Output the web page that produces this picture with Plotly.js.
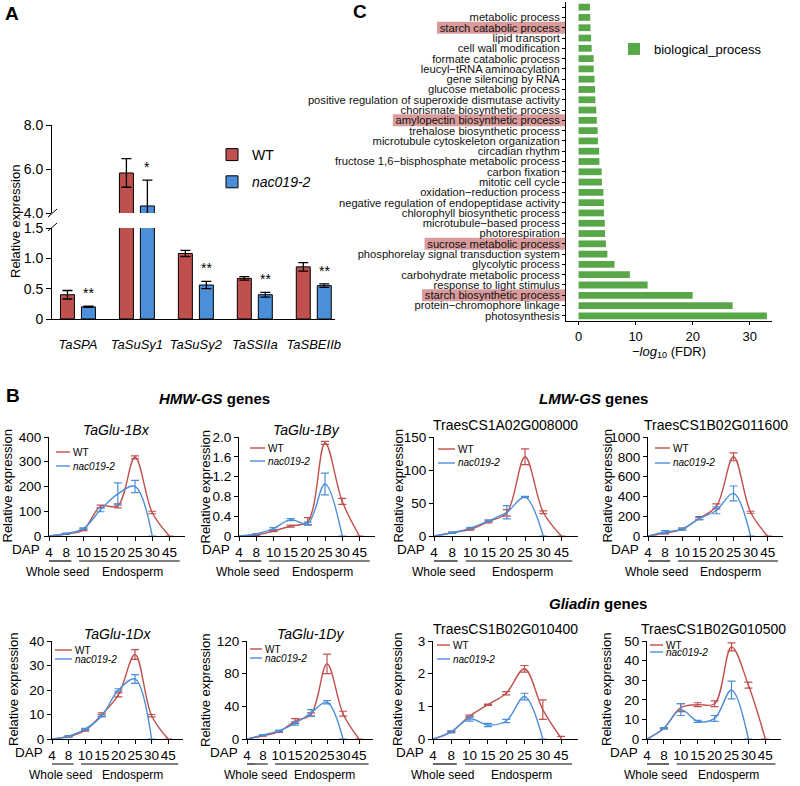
<!DOCTYPE html>
<html><head><meta charset="utf-8">
<script src="https://cdn.plot.ly/plotly-3.0.1.min.js"></script>
<style>body{margin:0;background:#fff}#chart{width:800px;height:786px}</style>
</head><body><div id="chart"></div>
<script>
// ---------------- DATA ----------------
// Panel A
const genesA = ['TaSPA','TaSuSy1','TaSuSy2','TaSSIIa','TaSBEIIb'];
const wtA = [0.40, 5.82, 1.08, 0.67, 0.86];
const wtAErr = [0.07, 0.65, 0.05, 0.03, 0.07];
const nacA = [0.20, 4.32, 0.56, 0.40, 0.55];
const nacAErr = [0.01, 1.17, 0.06, 0.04, 0.03];
const sigA = ['**','*','**','**','**'];
const aLowTicks = [0, 0.5, 1, 1.5];
const aLowTickText = ['0','0.5','1.0','1.5'];
const aHighTicks = [4, 6, 8];
const aHighTickText = ['4.0','6.0','8.0'];

// Panel C
const goTerms = [' ','metabolic process','starch catabolic process','lipid transport','cell wall modification',
 'formate catabolic process','leucyl\u2212tRNA aminoacylation','gene silencing by RNA','glucose metabolic process',
 'positive regulation of superoxide dismutase activity','chorismate biosynthetic process','amylopectin biosynthetic process',
 'trehalose biosynthetic process','microtubule cytoskeleton organization','circadian rhythm',
 'fructose 1,6\u2212bisphosphate metabolic process','carbon fixation','mitotic cell cycle','oxidation\u2212reduction process',
 'negative regulation of endopeptidase activity','chlorophyll biosynthetic process','microtubule\u2212based process',
 'photorespiration','sucrose metabolic process','phosphorelay signal transduction system','glycolytic process',
 'carbohydrate metabolic process','response to light stimulus','starch biosynthetic process','protein\u2212chromophore linkage',
 'photosynthesis'];
const goScore = [2.0,2.05,2.1,2.2,2.3,2.65,2.65,2.8,2.9,2.95,3.1,3.2,3.35,3.4,3.6,3.65,4.05,4.1,4.35,4.45,4.45,4.6,4.65,4.8,5.05,6.3,9.0,12.1,20.0,27.0,33.0];
const goHighlighted = ['starch catabolic process','amylopectin biosynthetic process','sucrose metabolic process','starch biosynthetic process'];
const cTicks = [0, 10, 20, 30];

// Panel B
const dap = ['4','8','10','15','20','25','30','45'];
const wt1Bx = [0, 8, 25, 120, 122, 318, 95, 0];
const wt1BxErr = [null, 2, 3, 5, 8, 6, 5, null];
const nac1Bx = [0, 10, 30, 106, 170, 200, 0, null];
const nac1BxErr = [null, 2, 3, 8, 45, 25, null, null];
const wt1By = [0, 0.02, 0.1, 0.2, 0.3, 1.88, 0.7, 0];
const wt1ByErr = [null, 0.01, 0.01, 0.02, 0.07, 0.03, 0.06, null];
const nac1By = [0, 0.04, 0.15, 0.33, 0.25, 1.05, 0, null];
const nac1ByErr = [null, 0.01, 0.02, 0.02, 0.03, 0.22, null, null];
const wt1A008 = [0, 5, 10, 22, 35, 120, 36, 0];
const wt1A008Err = [null, 1, 1, 2, 5, 12, 2, null];
const nac1A008 = [0, 5, 12, 23, 36, 59, 0, null];
const nac1A008Err = [null, 1, 1, 1, 10, 1, null, null];
const wt1B116 = [0, 30, 70, 180, 300, 800, 240, 0];
const wt1B116Err = [null, 8, 10, 15, 25, 40, 10, null];
const nac1B116 = [0, 40, 70, 175, 260, 430, 0, null];
const nac1B116Err = [null, 15, 10, 10, 35, 75, null, null];
const wt1Dx = [0, 1, 3.5, 10, 18, 34.5, 9.5, 0];
const wt1DxErr = [null, 0.2, 0.3, 0.7, 0.8, 2, 0.5, null];
const nac1Dx = [0, 1.2, 4, 9.5, 20, 24.5, 0, null];
const nac1DxErr = [null, 0.2, 0.3, 0.5, 0.5, 1.8, null, null];
const wt1Dy = [0, 4, 9, 22, 30, 92, 31, 0];
const wt1DyErr = [null, 0.5, 1, 3, 2, 12, 3, null];
const nac1Dy = [0, 5, 10, 19, 32, 45, 0, null];
const nac1DyErr = [null, 0.5, 1, 2, 4, 2, null, null];
const wt104 = [0, 0.22, 0.7, 1.05, 1.4, 2.15, 0.9, 0.03];
const wt104Err = [null, 0.02, 0.03, 0.02, 0.05, 0.1, 0.3, 0.05];
const nac104 = [0, 0.22, 0.62, 0.43, 0.55, 1.3, 0, null];
const nac104Err = [null, 0.03, 0.07, 0.05, 0.05, 0.1, null, null];
const wt105 = [0, 5.5, 16, 17.5, 18, 47, 27.5, 0];
const wt105Err = [null, 0.3, 2, 1, 1.5, 2, 1.5, null];
const nac105 = [0, 5.5, 15, 9, 10.5, 25, 0, null];
const nac105Err = [null, 0.3, 3, 0.5, 1.5, 4.5, null, null];

// ---------------- STYLE / LAYOUT ----------------
const W = 800, H = 786;
const X = v => v / W;
const Y = v => 1 - v / H;
const FONT = 'Liberation Sans, Arial, Helvetica, sans-serif';
const RED = '#c0504d', BLUE = '#4a8fd8', GREEN = '#58a84a', HILITE = '#d99b9b';

const traces = [], ann = [], shp = [];
const layout = {
  width: W, height: H, margin: {l:0, r:0, t:0, b:0},
  paper_bgcolor: '#fff', plot_bgcolor: 'rgba(0,0,0,0)',
  font: {family: FONT, size: 13, color: '#000'},
  barmode: 'overlay', showlegend: true, hovermode: false,
  legend: {x: X(212), y: Y(139), xanchor: 'left', yanchor: 'top', bgcolor: 'rgba(0,0,0,0)',
           font: {size: 14}, tracegroupgap: 6},
  legend2: {x: X(614), y: Y(34), xanchor: 'left', yanchor: 'top', bgcolor: 'rgba(0,0,0,0)',
           font: {size: 13}}
};
const axLine = {showline: true, linecolor: '#000', linewidth: 1, showgrid: false, zeroline: false,
                ticks: 'outside', tickcolor: '#000', tickwidth: 1, fixedrange: true, automargin: false};
function note(o) { return Object.assign({xref: 'paper', yref: 'paper', showarrow: false,
  xanchor: 'center', yanchor: 'middle'}, o); }

// ---- Panel A ----
const slot = 59;               // px per category
const barW = 14 / slot, half = 10.5 / slot;
[[wtA, wtAErr, 'WT', 'WT', RED, -half], [nacA, nacAErr, '<i>nac019-2</i>', 'nac', BLUE, half]]
.forEach(([vals, errs, name, grp, col, off]) => {
  ['y', 'y2'].forEach((ya, m) => {
    traces.push({type: 'bar', x: genesA, y: vals, name: name, legendgroup: grp, legend: 'legend',
      showlegend: m === 0, xaxis: 'x', yaxis: ya, width: barW, offset: off - barW / 2,
      marker: {color: col, line: {color: '#000', width: 1}},
      error_y: {type: 'data', array: errs, color: '#000', thickness: 1.3, width: 5}});
  });
});
layout.xaxis = Object.assign({}, axLine, {domain: [X(52), X(335)], anchor: 'y', type: 'category',
  range: [-0.44, 4.36], ticklen: 13, tickcolor: 'rgba(0,0,0,0)', tickmode: 'array', tickvals: genesA, tickangle: 0,
  ticktext: genesA.map(g => '<i>' + g + '</i>'), tickfont: {size: 13}});
layout.yaxis = Object.assign({}, axLine, {domain: [Y(319), Y(228)], anchor: 'x', range: [0, 1.5],
  tickmode: 'array', tickvals: aLowTicks, ticktext: aLowTickText, ticklen: 5, tickfont: {size: 14}});
layout.yaxis2 = Object.assign({}, axLine, {domain: [Y(213), Y(125)], anchor: 'x', range: [4, 8],
  tickmode: 'array', tickvals: aHighTicks, ticktext: aHighTickText, ticklen: 5, tickfont: {size: 14}});
genesA.forEach((g, i) => {
  const top = nacA[i] + nacAErr[i];
  ann.push({xref: 'x', yref: top > 1.5 ? 'y2' : 'y', x: i + half, y: top, text: sigA[i],
    showarrow: false, xanchor: 'center', yanchor: 'bottom', yshift: 3, font: {size: 14}});
});
ann.push(note({x: X(15), y: Y(222), text: 'Relative expression', textangle: -90, font: {size: 13}}));
// axis-break marks
[[48, 217, 57, 209], [48, 231, 57, 223]].forEach(([a, b, c, d]) => shp.push({type: 'line',
  xref: 'paper', yref: 'paper', x0: X(a), y0: Y(b), x1: X(c), y1: Y(d), line: {color: '#000', width: 1}}));

// ---- Panel C ----
traces.push({type: 'bar', orientation: 'h', x: goScore, y: goTerms, xaxis: 'x3', yaxis: 'y3',
  name: 'biological_process', legend: 'legend2', width: 0.66, marker: {color: GREEN}});
const cTop = 2, cBot = 321, cL = 566, cR = 772, cFont = 11.2;
layout.xaxis3 = Object.assign({}, axLine, {domain: [X(cL), X(cR)], anchor: 'y3', range: [-2.2, 33.9],
  tickmode: 'array', tickvals: cTicks, ticklen: 3, tickfont: {size: 13}, tickangle: 0,
  title: {text: '<i>\u2212log</i><sub>10</sub> (FDR)', font: {size: 13}, standoff: 0}});
layout.yaxis3 = Object.assign({}, axLine, {domain: [Y(cBot), Y(cTop)], anchor: 'x3', type: 'category',
  range: [goTerms.length - 0.5, -0.5], ticklen: 3, tickmode: 'array', tickvals: goTerms, ticktext: goTerms,
  tickfont: {size: cFont, color: '#111'}});
const ctx = document.createElement('canvas').getContext('2d');
ctx.font = cFont + 'px "Liberation Sans"';
const catH = (cBot - cTop) / goTerms.length;
goHighlighted.forEach(t => {
  const i = goTerms.indexOf(t);
  const yc = cTop + (i + 0.5) * catH;
  const w = ctx.measureText(t).width;
  shp.push({type: 'rect', xref: 'paper', yref: 'paper', layer: 'below',
    x0: X(cL - 3 - 3 - w - 3), x1: X(cL - 1), y0: Y(yc + 6), y1: Y(yc - 6),
    fillcolor: HILITE, line: {width: 0}});
});

// ---- Panel B ----
const bPanels = [
 {t: 'TaGlu-1Bx', it: true, wt: wt1Bx, wtE: wt1BxErr, nac: nac1Bx, nacE: nac1BxErr, tv: [0,100,200,300,400], tt: null, ax: 49, step: 17.2, top: 437, bot: 536, ytx: 7, leg: [7, 21, 15, 29]},
 {t: 'TaGlu-1By', it: true, wt: wt1By, wtE: wt1ByErr, nac: nac1By, nacE: nac1ByErr, tv: [0,0.4,0.8,1.2,1.6,2.0], tt: ['0','0.4','0.8','1.2','1.6','2.0'], ax: 239, step: 17.2, top: 437, bot: 536, ytx: 205, leg: [11, 26, 11, 24]},
 {t: 'TraesCS1A02G008000', it: false, wt: wt1A008, wtE: wt1A008Err, nac: nac1A008, nacE: nac1A008Err, tv: [0,50,100,150], tt: null, ax: 434, step: 18.2, top: 437, bot: 536, ytx: 398, leg: [4, 21, 12, 26]},
 {t: 'TraesCS1B02G011600', it: false, wt: wt1B116, wtE: wt1B116Err, nac: nac1B116, nacE: nac1B116Err, tv: [0,200,400,600,800,1000], tt: null, ax: 648, step: 17.1, top: 437, bot: 536, ytx: 607, leg: [7, 22, 11, 26]},
 {t: 'TaGlu-1Dx', it: true, wt: wt1Dx, wtE: wt1DxErr, nac: nac1Dx, nacE: nac1DxErr, tv: [0,10,20,30,40], tt: null, ax: 52, step: 16.6, top: 641, bot: 739, ytx: 13, leg: [3, 20, 9, 18]},
 {t: 'TaGlu-1Dy', it: true, wt: wt1Dy, wtE: wt1DyErr, nac: nac1Dy, nacE: nac1DyErr, tv: [0,40,80,120], tt: null, ax: 247, step: 16.0, top: 641, bot: 739, ytx: 205, leg: [3, 15, 8, 17]},
 {t: 'TraesCS1B02G010400', it: false, wt: wt104, wtE: wt104Err, nac: nac104, nacE: nac104Err, tv: [0,1,2,3], tt: null, ax: 433, step: 18.3, top: 641, bot: 739, ytx: 397, leg: [4, 17, 4, 18]},
 {t: 'TraesCS1B02G010500', it: false, wt: wt105, wtE: wt105Err, nac: nac105, nacE: nac105Err, tv: [0,10,20,30,40,50], tt: null, ax: 647, step: 16.9, top: 641, bot: 739, ytx: 606, leg: [3, 16, 4, 11]}
];
const xSpan = 7.9;
bPanels.forEach((p, k) => {
  const xa = 'x' + (4 + k), ya = 'y' + (4 + k);
  [[p.wt, p.wtE, RED], [p.nac, p.nacE, BLUE]].forEach(([vals, errs, col]) => {
    traces.push({type: 'scatter', mode: 'lines', x: dap, y: vals, xaxis: xa, yaxis: ya, showlegend: false,
      connectgaps: false, line: {color: col, width: 1.4, shape: 'spline', smoothing: 1},
      error_y: {type: 'data', array: errs, color: col, thickness: 1.2, width: 4}});
  });
  layout['xaxis' + (4 + k)] = Object.assign({}, axLine, {domain: [X(p.ax), X(p.ax + xSpan * p.step)],
    anchor: ya, type: 'category', range: [0, xSpan], ticklen: 4, tickangle: 0,
    tickmode: 'array', tickvals: dap, ticktext: dap, tickfont: {size: 13.5}});
  const yAx = Object.assign({}, axLine, {domain: [Y(p.bot), Y(p.top)], anchor: xa,
    range: [p.tv[0], p.tv[p.tv.length - 1]], tickmode: 'array', tickvals: p.tv, ticklen: 4, tickfont: {size: 13.5}});
  if (p.tt) yAx.ticktext = p.tt;
  layout['yaxis' + (4 + k)] = yAx;
  const cx = p.ax + xSpan * p.step / 2;
  ann.push(note({x: X(cx), y: Y(p.top - (p.it ? 7 : 12)),
    text: p.it ? '<i>' + p.t + '</i>' : p.t, font: {size: 14}}));
  ann.push(note({x: X(p.ytx), y: Y((p.top + p.bot) / 2), text: 'Relative expression',
    textangle: -90, font: {size: 13}}));
  ann.push(note({x: X(p.ax - 7), y: Y(p.bot + 13), xanchor: 'right', text: 'DAP', font: {size: 13.5}}));
  // stage underlines + labels
  [[-0.1, 1.3], [1.75, 7.6]].forEach(([a, b]) => shp.push({type: 'line', xref: xa, yref: 'paper',
    x0: a, x1: b, y0: Y(p.bot + 25), y1: Y(p.bot + 25), line: {color: '#000', width: 1.2}}));
  ann.push(note({xref: xa, x: 0.5, y: Y(p.bot + 36), text: 'Whole seed', font: {size: 12}}));
  ann.push(note({xref: xa, x: 4.85, y: Y(p.bot + 36), text: 'Endosperm', font: {size: 12}}));
  // in-panel legend
  const [l0, l1, dW, dN] = p.leg;
  [[dW, RED, 'WT'], [dN, BLUE, '<i>nac019-2</i>']].forEach(([d, col, txt]) => {
    shp.push({type: 'line', xref: 'paper', yref: 'paper', x0: X(p.ax + l0), x1: X(p.ax + l1),
      y0: Y(p.top + d), y1: Y(p.top + d), line: {color: col, width: 1.4}});
    ann.push(note({x: X(p.ax + l1 + 1), y: Y(p.top + d), xanchor: 'left', text: txt, font: {size: 10}}));
  });
});

// section headers and panel letters
[['<b><i>HMW-GS</i> genes</b>', 157, 398], ['<b><i>LMW-GS</i> genes</b>', 537, 398], ['<b><i>Gliadin</i> genes</b>', 547, 603]]
.forEach(([t, x, y]) => ann.push(note({x: X(x), y: Y(y), xanchor: 'left', text: t, font: {size: 15}})));
[['A', 3, 13], ['B', 4, 395], ['C', 351, 11]].forEach(([t, x, y]) => ann.push(note({
  x: X(x), y: Y(y), xanchor: 'left', text: '<b>' + t + '</b>', font: {size: 19}})));

layout.annotations = ann;
layout.shapes = shp;
Plotly.newPlot('chart', traces, layout, {displayModeBar: false, staticPlot: true});
</script></body></html>
